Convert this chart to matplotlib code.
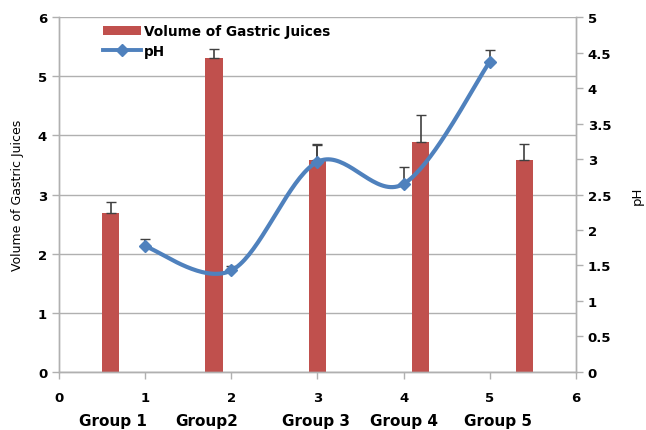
import numpy as np
import matplotlib
matplotlib.use("Agg")
import matplotlib.pyplot as plt
from matplotlib.transforms import blended_transform_factory

# donnees
groups = ["Group 1", "Group2", "Group 3", "Group 4", "Group 5"]
bar_x = [0.6, 1.8, 3.0, 4.2, 5.4]
volume = [2.68, 5.30, 3.58, 3.88, 3.58]
volume_err = [0.20, 0.16, 0.27, 0.46, 0.27]
ph_x = [1, 2, 3, 4, 5]
ph = [1.77, 1.43, 2.96, 2.65, 4.37]
ph_err = [0.10, 0.06, 0.24, 0.24, 0.16]

# position des etiquettes de groupe (mise en page)
group_pos = [0.63, 1.72, 2.98, 4.0, 5.1]

red = "#C0504D"
blue = "#4F81BD"
grey = "#B0B0B0"


# courbe lissee type Excel (Catmull-Rom)
def smooth(x, y, n=40):
    x = np.asarray(x, float)
    y = np.asarray(y, float)
    px = np.concatenate([[x[0]], x, [x[-1]]])
    py = np.concatenate([[y[0]], y, [y[-1]]])
    xs, ys = [], []
    t = np.linspace(0, 1, n)
    for i in range(1, len(px) - 2):
        p0, p1, p2, p3 = [np.array([px[j], py[j]]) for j in range(i - 1, i + 3)]
        c1 = p1 + (p2 - p0) / 6.
        c2 = p2 - (p3 - p1) / 6.
        b = ((1 - t) ** 3)[:, None] * p1 + (3 * (1 - t) ** 2 * t)[:, None] * c1 \
            + (3 * (1 - t) * t ** 2)[:, None] * c2 + (t ** 3)[:, None] * p2
        xs.append(b[:, 0])
        ys.append(b[:, 1])
    return np.concatenate(xs), np.concatenate(ys)


fig = plt.figure(figsize=(6.46, 4.31), dpi=100)
ax = fig.add_axes([0.0913, 0.1346, 0.8003, 0.8236])
ax2 = ax.twinx()

ax.bar(bar_x, volume, width=0.2, color=red, zorder=2,
       label="Volume of Gastric Juices")
ax.errorbar(bar_x, volume, yerr=[np.zeros(len(volume)), volume_err],
            fmt="none", ecolor="#404040", elinewidth=1.2, capsize=3.5, zorder=3)

sx, sy = smooth(ph_x, ph)
ax2.errorbar(ph_x, ph, yerr=[np.zeros(len(ph)), ph_err],
             fmt="none", ecolor="#404040", elinewidth=1.2, capsize=3.5, zorder=1)
ax2.plot(sx, sy, color=blue, lw=3.0, zorder=2)
ax2.plot(ph_x, ph, ls="none", marker="D", ms=6, color=blue, zorder=3)
line_handle, = ax2.plot([], [], color=blue, lw=2.8, marker="D", ms=6)

ax.set_xlim(0, 6)
ax.set_ylim(0, 6)
ax2.set_ylim(0, 5)
ax.set_xticks(range(7))
ax.set_yticks(range(7))
ax2.set_yticks(np.arange(0, 5.01, 0.5))
ax2.set_yticklabels(["0", "0.5", "1", "1.5", "2", "2.5", "3", "3.5", "4", "4.5", "5"])

ax.yaxis.grid(True, color=grey, lw=1.0, zorder=0)
ax.set_axisbelow(True)
for a in (ax, ax2):
    for s in a.spines.values():
        s.set_color(grey)
        s.set_linewidth(1.0)
    a.spines["top"].set_visible(False)
    a.tick_params(colors=grey, length=5, width=1.0, labelcolor="black",
                  labelsize=9.5)
    for lab in a.get_xticklabels() + a.get_yticklabels():
        lab.set_fontweight("bold")
ax.tick_params(axis="x", pad=9)

ax.set_ylabel("Volume of Gastric Juices", fontsize=9, labelpad=10)
ax2.set_ylabel("pH", fontsize=9.5, labelpad=14)

tr = blended_transform_factory(ax.transData, ax.transAxes)
for g, xp in zip(groups, group_pos):
    ax.text(xp, -0.138, g, transform=tr, ha="center", va="center",
            fontsize=11, fontweight="bold")

bar_handle = ax.patches[0]
leg = ax2.legend([bar_handle, line_handle], ["Volume of Gastric Juices", "pH"],
                 loc="upper left", bbox_to_anchor=(0.075, 0.995), frameon=False,
                 handlelength=2.8, handleheight=0.75, handletextpad=0.2,
                 labelspacing=0.45, borderaxespad=0,
                 prop={"weight": "bold", "size": 9.8})

fig.savefig("out.png", dpi=100)
